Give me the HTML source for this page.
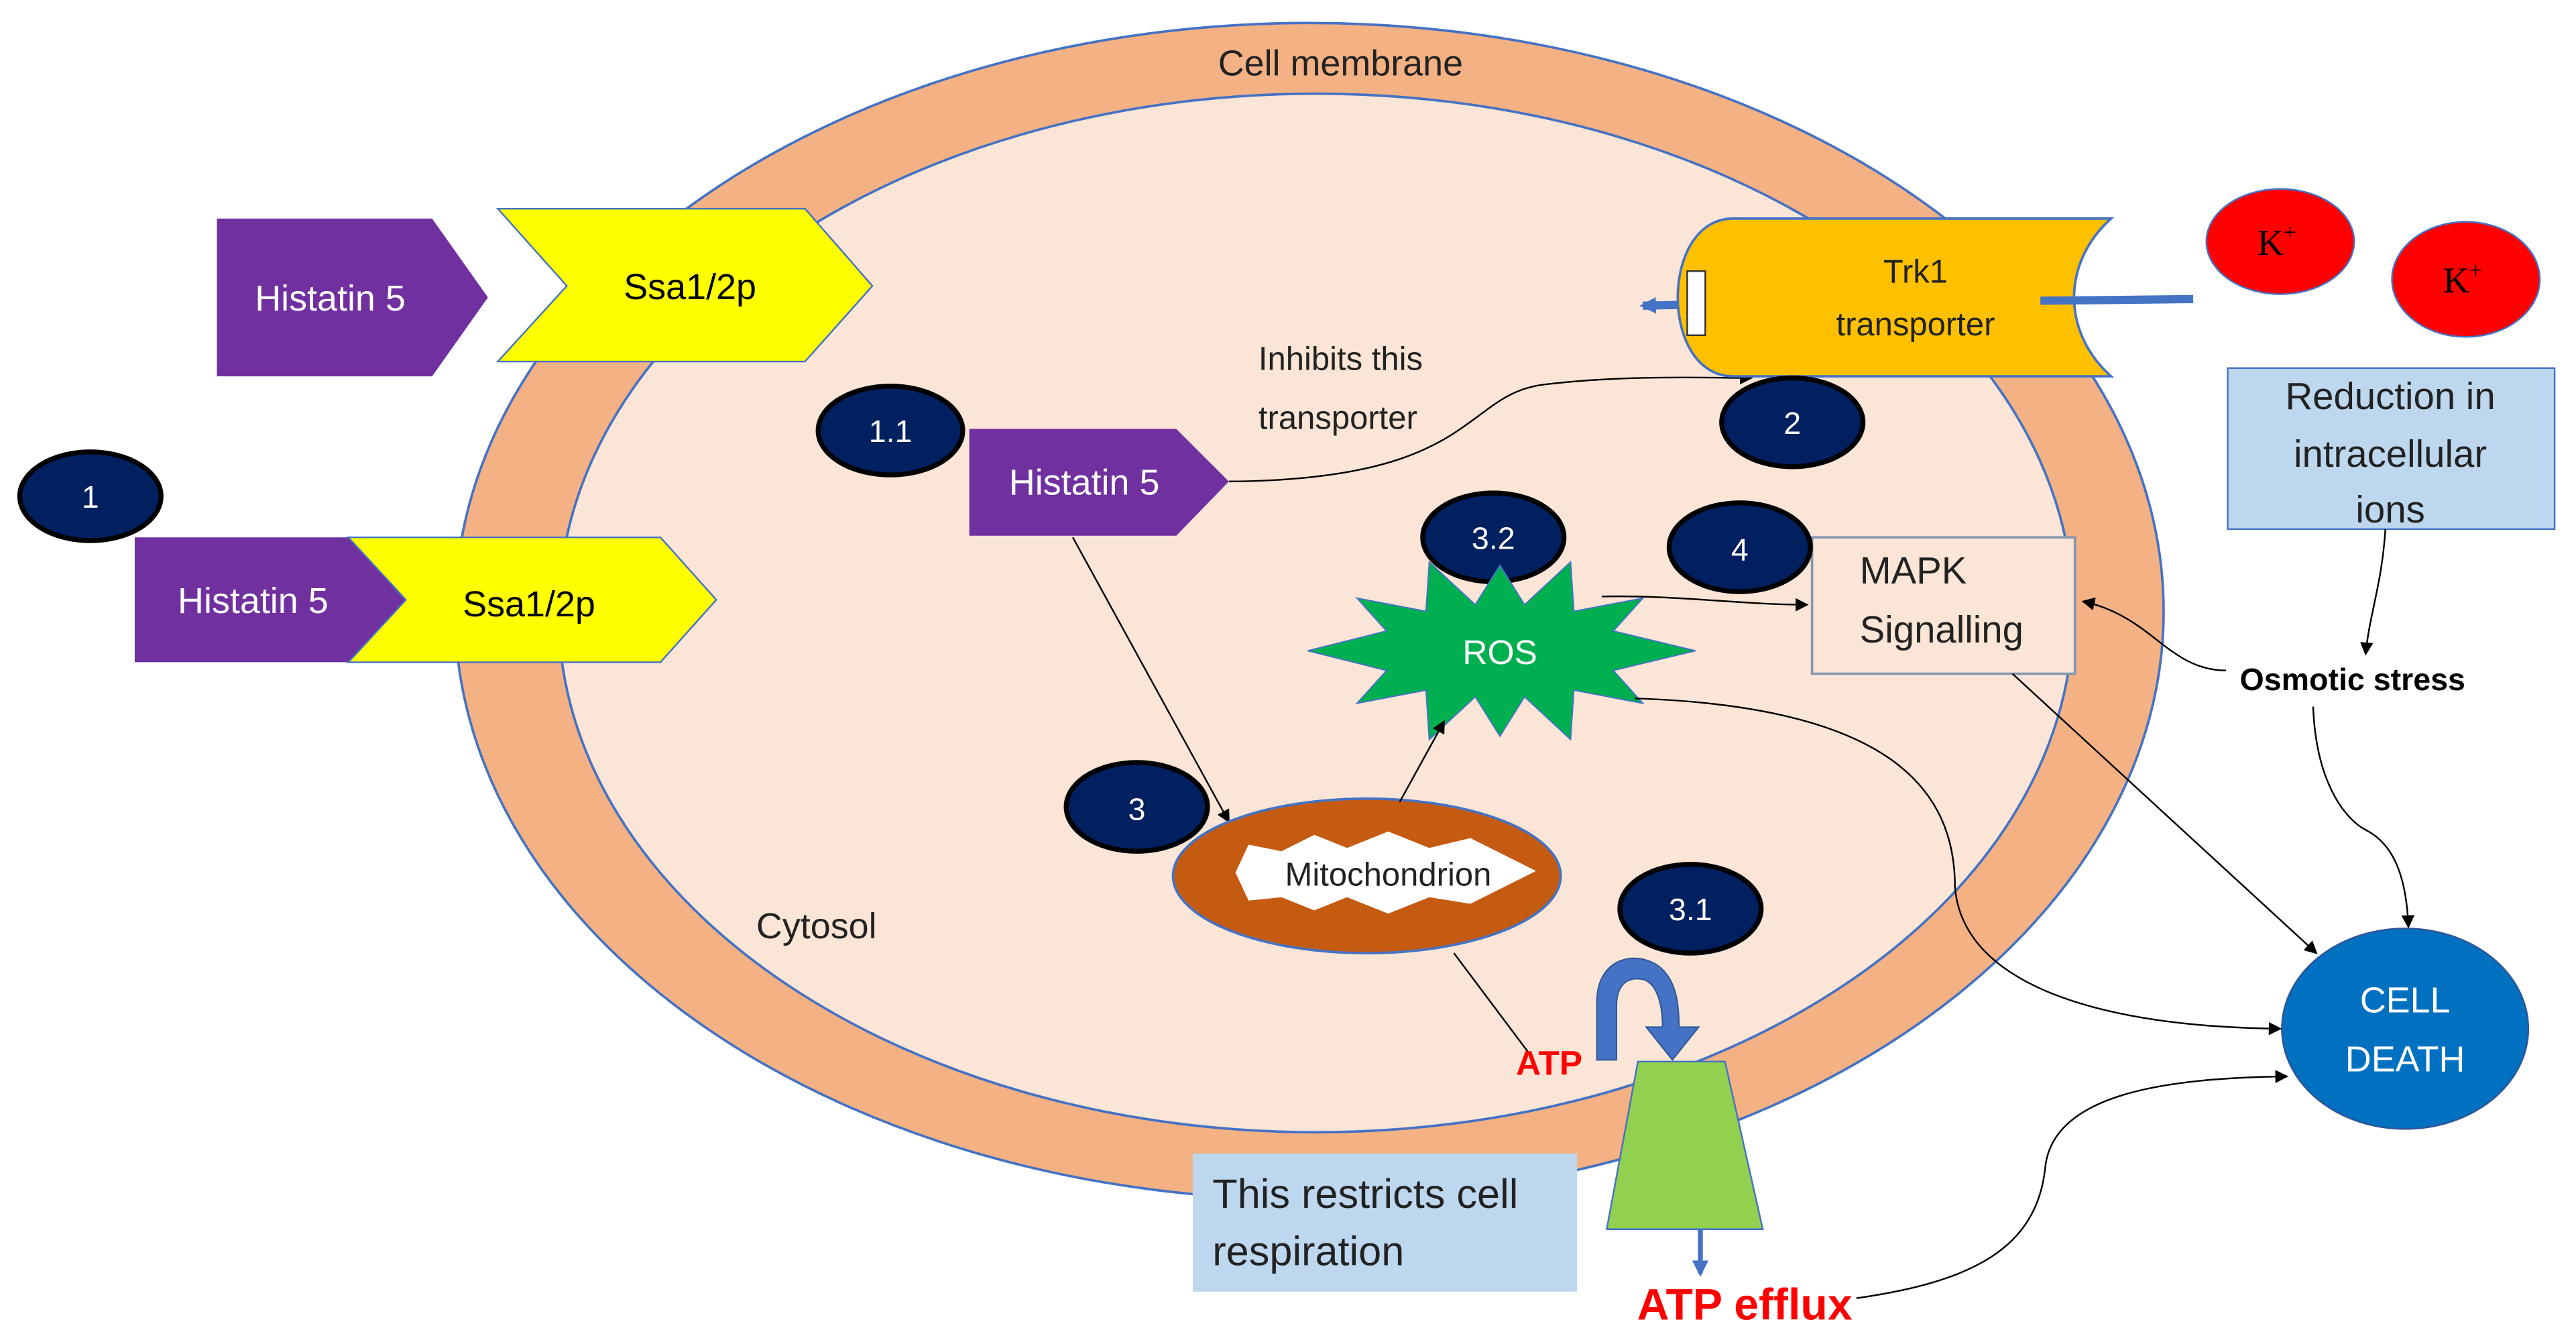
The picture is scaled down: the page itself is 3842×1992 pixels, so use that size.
<!DOCTYPE html>
<html><head><meta charset="utf-8"><style>html,body{margin:0;padding:0;background:#fff}svg{display:block}</style></head>
<body>
<svg width="3842" height="1992" viewBox="0 0 1568 813" xmlns="http://www.w3.org/2000/svg" font-family="Liberation Sans, sans-serif">
<defs>
<marker id="ar" markerWidth="8" markerHeight="8" refX="7" refY="4" orient="auto" markerUnits="userSpaceOnUse"><path d="M0,0 L8,4 L0,8 z" fill="#000"/></marker>
<marker id="ab" markerWidth="10" markerHeight="10" refX="8" refY="5" orient="auto" markerUnits="userSpaceOnUse"><path d="M0,0 L10,5 L0,10 z" fill="#4472c4"/></marker>
</defs>
<rect width="1568" height="813" fill="#fff"/>
<ellipse cx="797" cy="372" rx="520" ry="358" fill="#f4b183" stroke="#4472c4" stroke-width="1.5"/>
<ellipse cx="801" cy="373" rx="461" ry="316" fill="#fbe5d6" stroke="#4472c4" stroke-width="1.5"/>
<text x="816" y="46" font-size="22" text-anchor="middle" fill="#222">Cell membrane</text>

<polygon points="132,133 263,133 297,181 263,229 132,229" fill="#7030a0"/>
<text x="201" y="189" font-size="22" fill="#fff" text-anchor="middle">Histatin 5</text>
<polygon points="303,127 490,127 531,174 490,220 303,220 345,174" fill="#ffff00" stroke="#4472c4" stroke-width="1"/>
<text x="420" y="182" font-size="22" text-anchor="middle">Ssa1/2p</text>

<ellipse cx="55" cy="302" rx="43" ry="27" fill="#002060" stroke="#000" stroke-width="3"/>
<text x="55" y="309" font-size="19" fill="#fff" text-anchor="middle">1</text>
<polygon points="82,327 212,327 247,365 212,403 82,403" fill="#7030a0"/>
<polygon points="212,327 402,327 436,365 402,403 212,403 247,365" fill="#ffff00" stroke="#4472c4" stroke-width="1"/>
<text x="154" y="373" font-size="22" fill="#fff" text-anchor="middle">Histatin 5</text>
<text x="322" y="375" font-size="22" text-anchor="middle">Ssa1/2p</text>

<ellipse cx="542" cy="262" rx="44" ry="27" fill="#002060" stroke="#000" stroke-width="3"/>
<text x="542" y="269" font-size="19" fill="#fff" text-anchor="middle">1.1</text>
<polygon points="590,261 716,261 748,293 716,326 590,326" fill="#7030a0"/>
<text x="660" y="301" font-size="22" fill="#fff" text-anchor="middle">Histatin 5</text>
<text x="766" y="225" font-size="20" fill="#222">Inhibits this</text>
<text x="766" y="261" font-size="20" fill="#222">transporter</text>
<path d="M748,293 C900,292 890,240 940,234 C990,228 1040,230 1066,230" fill="none" stroke="#000" stroke-width="1" marker-end="url(#ar)"/>

<!-- Trk1 -->
<line x1="1100" y1="184" x2="1000" y2="186" stroke="#4472c4" stroke-width="5" marker-end="url(#ab)"/>
<path d="M1055,133 L1285,133 C1255,160 1255,202 1285,229 L1055,229 C1010,229 1010,133 1055,133 z" fill="#ffc000" stroke="#4472c4" stroke-width="1.5"/>
<line x1="1335" y1="182" x2="1242" y2="183" stroke="#4472c4" stroke-width="5"/>
<rect x="1027" y="165" width="11" height="39" fill="#fff" stroke="#333" stroke-width="1"/>
<text x="1166" y="172" font-size="20" text-anchor="middle" fill="#222">Trk1</text>
<text x="1166" y="204" font-size="20" text-anchor="middle" fill="#222">transporter</text>

<ellipse cx="1388" cy="147" rx="45" ry="32" fill="#ff0000" stroke="#4472c4" stroke-width="1"/>
<text x="1386" y="155" font-size="22" font-family="Liberation Serif, serif" text-anchor="middle">K<tspan font-size="14" dy="-9">+</tspan></text>
<ellipse cx="1501" cy="170" rx="45" ry="35" fill="#ff0000" stroke="#4472c4" stroke-width="1"/>
<text x="1499" y="178" font-size="22" font-family="Liberation Serif, serif" text-anchor="middle">K<tspan font-size="14" dy="-9">+</tspan></text>

<rect x="1356" y="224" width="199" height="98" fill="#bdd7ee" stroke="#4472c4" stroke-width="1"/>
<text x="1455" y="249" font-size="23" text-anchor="middle" fill="#222">Reduction in</text>
<text x="1455" y="284" font-size="23" text-anchor="middle" fill="#222">intracellular</text>
<text x="1455" y="318" font-size="23" text-anchor="middle" fill="#222">ions</text>

<ellipse cx="1091" cy="257" rx="43" ry="27" fill="#002060" stroke="#000" stroke-width="3"/>
<text x="1091" y="264" font-size="19" fill="#fff" text-anchor="middle">2</text>

<rect x="1103" y="327" width="160" height="83" fill="#fbe5d6" stroke="#8497b0" stroke-width="1.5"/>
<text x="1132" y="355" font-size="23" fill="#222">MAPK</text>
<text x="1132" y="391" font-size="23" fill="#222">Signalling</text>
<ellipse cx="909" cy="327" rx="43" ry="27" fill="#002060" stroke="#000" stroke-width="3"/>
<text x="909" y="334" font-size="19" fill="#fff" text-anchor="middle">3.2</text>
<ellipse cx="1059" cy="333" rx="43" ry="27" fill="#002060" stroke="#000" stroke-width="3"/>
<text x="1059" y="341" font-size="19" fill="#fff" text-anchor="middle">4</text>

<polygon points="913,344 928,368 956,342 958,372 1000,364 982,384 1032,396 982,408 1000,428 958,420 956,450 928,424 913,448 898,424 870,450 868,420 826,428 844,408 796,396 844,384 826,364 868,372 870,342 898,368" fill="#00b050" stroke="#4472c4" stroke-width="0.8"/>
<text x="913" y="404" font-size="21" fill="#fff" text-anchor="middle">ROS</text>
<path d="M975,363 C1020,362 1060,368 1100,368" fill="none" stroke="#000" stroke-width="1" marker-end="url(#ar)"/>

<text x="1432" y="420" font-size="19" font-weight="bold" text-anchor="middle">Osmotic stress</text>
<path d="M1452,322 C1450,355 1442,375 1440,398" fill="none" stroke="#000" stroke-width="1" marker-end="url(#ar)"/>
<path d="M1355,408 C1320,408 1310,375 1268,366" fill="none" stroke="#000" stroke-width="1" marker-end="url(#ar)"/>

<ellipse cx="1464" cy="626" rx="75" ry="61" fill="#0070c0" stroke="#2f5597" stroke-width="1"/>
<text x="1464" y="616" font-size="22" fill="#fff" text-anchor="middle">CELL</text>
<text x="1464" y="652" font-size="22" fill="#fff" text-anchor="middle">DEATH</text>
<path d="M1225,410 L1410,580" fill="none" stroke="#000" stroke-width="1" marker-end="url(#ar)"/>
<path d="M1408,430 C1410,480 1430,500 1440,505 C1460,515 1465,540 1466,564" fill="none" stroke="#000" stroke-width="1" marker-end="url(#ar)"/>
<path d="M995,425 C1150,430 1190,480 1190,540 C1195,600 1280,625 1388,626" fill="none" stroke="#000" stroke-width="1" marker-end="url(#ar)"/>
<path d="M1130,790 C1200,780 1240,760 1245,710 C1250,665 1320,656 1392,655" fill="none" stroke="#000" stroke-width="1" marker-end="url(#ar)"/>

<path d="M653,327 L748,500" stroke="#000" stroke-width="1" marker-end="url(#ar)"/>
<ellipse cx="692" cy="491" rx="43" ry="27" fill="#002060" stroke="#000" stroke-width="3"/>
<text x="692" y="499" font-size="19" fill="#fff" text-anchor="middle">3</text>
<ellipse cx="832" cy="533" rx="118" ry="47" fill="#c55a11" stroke="#4472c4" stroke-width="1.5"/>
<polygon points="760,514 780,518 800,508 820,516 845,506 870,516 895,510 915,520 935,530 915,540 895,550 870,546 845,556 820,546 800,554 780,546 760,548 752,531" fill="#fff"/>
<text x="845" y="539" font-size="20" text-anchor="middle" fill="#222">Mitochondrion</text>
<path d="M852,488 L879,439" stroke="#000" stroke-width="1" marker-end="url(#ar)"/>
<text x="497" y="571" font-size="22" text-anchor="middle" fill="#222">Cytosol</text>

<ellipse cx="1029" cy="553" rx="43" ry="27" fill="#002060" stroke="#000" stroke-width="3"/>
<text x="1029" y="560" font-size="19" fill="#fff" text-anchor="middle">3.1</text>
<path d="M885,580 L930,640" stroke="#000" stroke-width="1"/>
<text x="943" y="654" font-size="21" font-weight="bold" fill="#ff0000" text-anchor="middle">ATP</text>

<path d="M972,645 L972,610 C972,580 1000,578 1012,590 C1020,598 1022,610 1022,625 L1034,625 L1018,645 L1002,625 L1012,625 C1012,610 1008,598 1000,596 C990,594 984,600 984,612 L984,645 z" fill="#4472c4" stroke="#2f5597" stroke-width="0.8"/>
<polygon points="997,646 1050,646 1073,748 978,748" fill="#92d050" stroke="#4472c4" stroke-width="1"/>
<line x1="1035" y1="748" x2="1035" y2="775" stroke="#4472c4" stroke-width="3" marker-end="url(#ab)"/>
<text x="1062" y="803" font-size="27" font-weight="bold" fill="#ff0000" text-anchor="middle">ATP efflux</text>

<rect x="726" y="702" width="234" height="84" fill="#bdd7ee"/>
<text x="738" y="735" font-size="25" fill="#222">This restricts cell</text>
<text x="738" y="770" font-size="25" fill="#222">respiration</text>
</svg>
</body></html>
